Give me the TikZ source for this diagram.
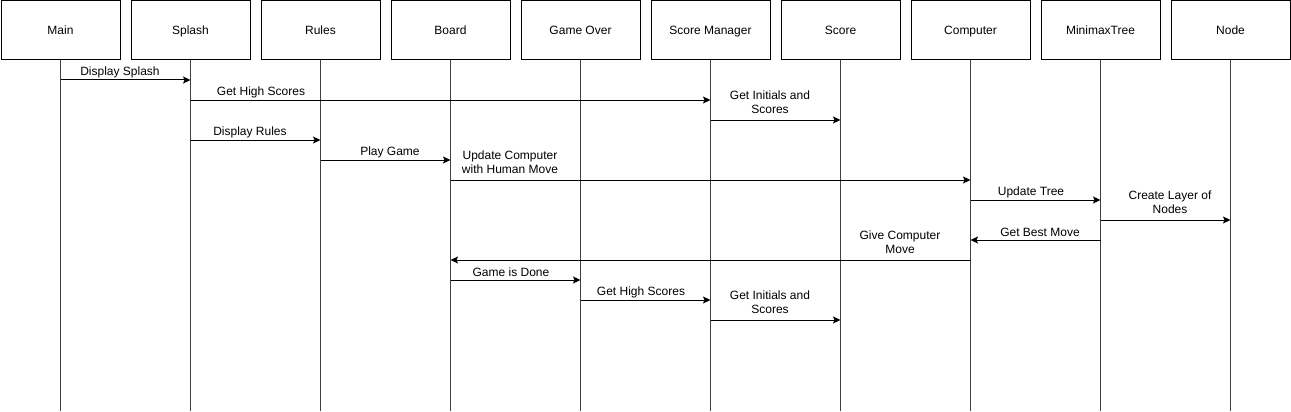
\documentclass[tikz,border=0pt]{standalone}
\usepackage{fontspec}
\setmainfont{Liberation Sans}
\usetikzlibrary{arrows.meta}
\begin{document}
\begin{tikzpicture}[x=1pt,y=-1pt,line width=1pt,
  box/.style={draw=black,fill=white,minimum width=119pt,minimum height=59pt,inner sep=0pt,text depth=0pt,font=\fontsize{12}{14}\selectfont},
  life/.style={draw=black!75,line width=1pt},
  msg/.style={draw=black,line width=1pt,-{Stealth[length=7.5pt,width=7pt,inset=1.5pt]}},
  lbl/.style={font=\fontsize{12}{14}\selectfont,align=center,inner sep=0pt}]
\useasboundingbox (0,0) rectangle (1291,412);
% participants
\node[box] (main)  at (60.5,30.5) {Main};
\node[box] (splash) at (190.5,30.5) {Splash};
\node[box] (rules) at (320.5,30.5) {Rules};
\node[box] (board) at (450.5,30.5) {Board};
\node[box] (over)  at (580.5,30.5) {Game Over};
\node[box] (mgr)   at (710.5,30.5) {Score Manager};
\node[box] (score) at (840.5,30.5) {Score};
\node[box] (comp)  at (970.5,30.5) {Computer};
\node[box] (tree)  at (1100.5,30.5) {MinimaxTree};
\node[box] (nodeb) at (1230.5,30.5) {Node};
% lifelines
\foreach \n in {main,splash,rules,board,over,mgr,score,comp,tree,nodeb}{
  \coordinate (\n-end) at ([yshift=-350pt]\n.south);
  \draw[life] (\n.south) -- (\n-end);
}
% messages
\draw[msg] (main |- 0,80) -- (splash |- 0,80);
\node[lbl] (l1) at (120,72) {Display Splash};
\draw[msg] (splash |- 0,100) -- (mgr |- 0,100);
\node[lbl] (l2) at (261,92) {Get High Scores};
\draw[msg] (mgr |- 0,120) -- (score |- 0,120);
\node[lbl] (l3) at (770,102) {Get Initials and\\Scores};
\draw[msg] (splash |- 0,140) -- (rules |- 0,140);
\node[lbl] (l4) at (250,132) {Display Rules};
\draw[msg] (rules |- 0,160) -- (board |- 0,160);
\node[lbl] (l5) at (390,152) {Play Game};
\draw[msg] (board |- 0,180) -- (comp |- 0,180);
\node[lbl] (l6) at (510,162) {Update Computer\\with Human Move};
\draw[msg] (comp |- 0,200) -- (tree |- 0,200);
\node[lbl] (l7) at (1031,192) {Update Tree};
\draw[msg] (tree |- 0,220) -- (nodeb |- 0,220);
\node[lbl] (l8) at (1170,202) {Create Layer of\\Nodes};
\draw[msg] (tree |- 0,240) -- (comp |- 0,240);
\node[lbl] (l9) at (1040,232) {Get Best Move};
\draw[msg] (comp |- 0,260) -- (board |- 0,260);
\node[lbl] (l10) at (900,242) {Give Computer\\Move};
\draw[msg] (board |- 0,280) -- (over |- 0,280);
\node[lbl] (l11) at (511,272) {Game is Done};
\draw[msg] (over |- 0,300) -- (mgr |- 0,300);
\node[lbl] (l12) at (641,292) {Get High Scores};
\draw[msg] (mgr |- 0,320) -- (score |- 0,320);
\node[lbl] (l13) at (770,302) {Get Initials and\\Scores};
\end{tikzpicture}
\end{document}
